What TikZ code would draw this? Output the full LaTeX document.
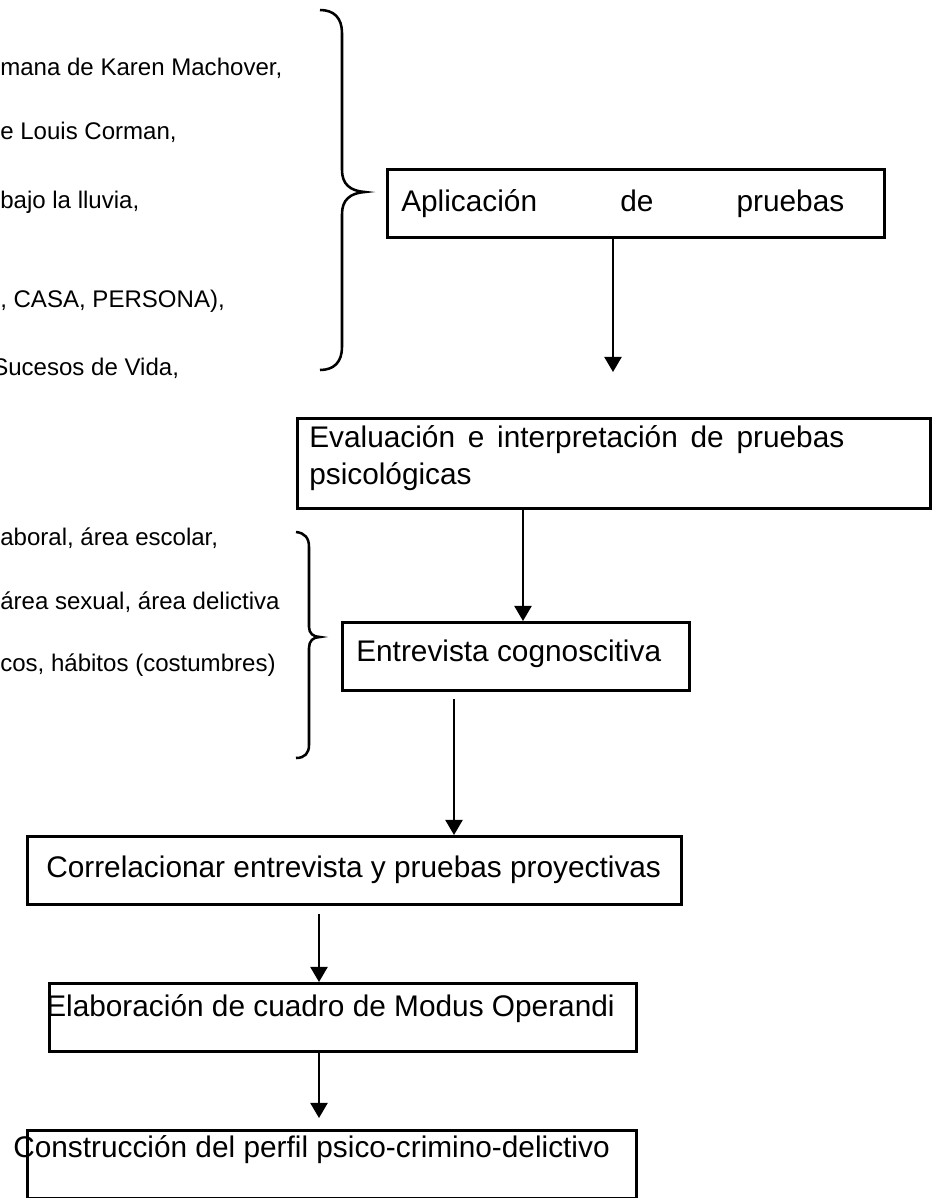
\documentclass[tikz,border=0pt]{standalone}
\usepackage{fontspec}
\setmainfont{Liberation Sans}
\usepackage{tikz}
\usetikzlibrary{arrows.meta,positioning}

\begin{document}
\begin{tikzpicture}[x=0.025cm,y=-0.025cm,
  stepbox/.style={draw, line width=1.8pt, anchor=north west, inner sep=0pt, minimum height=1.7cm, align=flush left, font=\fontsize{21.2}{26.3}\selectfont, text width=#1},
  testline/.style={anchor=base west, inner sep=0pt, font=\fontsize{17.1}{20}\selectfont},
  flecha/.style={line width=1.6pt, -{Triangle[length=0.38cm,width=0.43cm]}},
  llave/.style={line width=1.8pt}]

\useasboundingbox (0,0) rectangle (932,1198);

% Tests applied
\node[testline] (t1) at (0,75) {mana de Karen Machover,};
\node[testline] (t2) at (0,139) {e Louis Corman,};
\node[testline] (t3) at (0,208) {bajo la lluvia,};
\node[testline] (t4) at (0,307) {, CASA, PERSONA),};
\node[testline] (t5) at (-8,375) {Sucesos de Vida,};

% Interview areas
\node[testline] (e1) at (0,545) {aboral, área escolar,};
\node[testline] (e2) at (0,609) {área sexual, área delictiva};
\node[testline] (e3) at (0,671) {cos, hábitos (costumbres)};

% Braces
\draw[llave] (320,10) .. controls (334,10) and (342,18) .. (342,33) -- (342,170)
  .. controls (342,184) and (350,191) .. (365,192) .. controls (350,193) and (342,200) .. (342,214)
  -- (342,347) .. controls (342,362) and (334,370) .. (320,370);
\draw[llave] (296,532) .. controls (305,533) and (309,538) .. (309,547) -- (309,627)
  .. controls (309,633) and (313,637) .. (320,637) .. controls (313,637) and (309,641) .. (309,648)
  -- (309,745) .. controls (309,753) and (305,758) .. (296,758);

% Steps
\node[stepbox=12.425cm, text height=0.7cm, text depth=0.3cm] (aplic) at (386,168)
  {\hspace*{0.35cm}\makebox[11.075cm][l]{Aplicación\hfill de\hfill pruebas}};
\node[stepbox=15.825cm, minimum height=2.25cm, text height=0.7cm, text depth=1.5cm] (eval) at (296,417)
  {\hspace*{0.3cm}\makebox[13.375cm][l]{Evaluación\hfill e\hfill interpretación\hfill de\hfill pruebas}\\\hspace*{0.3cm}psicológicas};
\node[stepbox=8.675cm, text height=0.625cm, text depth=0.375cm] (entrev) at (341,621)
  {\hspace*{0.35cm}Entrevista cognoscitiva};
\node[stepbox=16.35cm, text height=0.675cm, text depth=0.325cm] (correl) at (26,835)
  {\hspace*{0.475cm}Correlacionar entrevista y pruebas proyectivas};
\node[stepbox=14.675cm, text height=0.475cm, text depth=0.525cm] (elab) at (48,982)
  {\hspace*{-0.075cm}Elaboración de cuadro de Modus Operandi};
\node[stepbox=15.225cm, text height=0.325cm, text depth=0.675cm] (constr) at (26,1129)
  {\hspace*{-0.35cm}Construcción del perfil psico-crimino-delictivo};

% Arrows
\coordinate (f1) at (613,372);
\coordinate (f2) at (523,507);
\coordinate (f3) at (454,699);
\coordinate (f4) at (319,914);
\coordinate (f5) at (319,1118);

\draw[flecha] (aplic.south -| f1) -- (f1);
\draw[flecha] (eval.south -| f2) -- (entrev.north -| f2);
\draw[flecha] (f3) -- (f3 |- correl.north);
\draw[flecha] (f4) -- (f4 |- elab.north);
\draw[flecha] (elab.south -| f5) -- (f5);

\end{tikzpicture}
\end{document}
